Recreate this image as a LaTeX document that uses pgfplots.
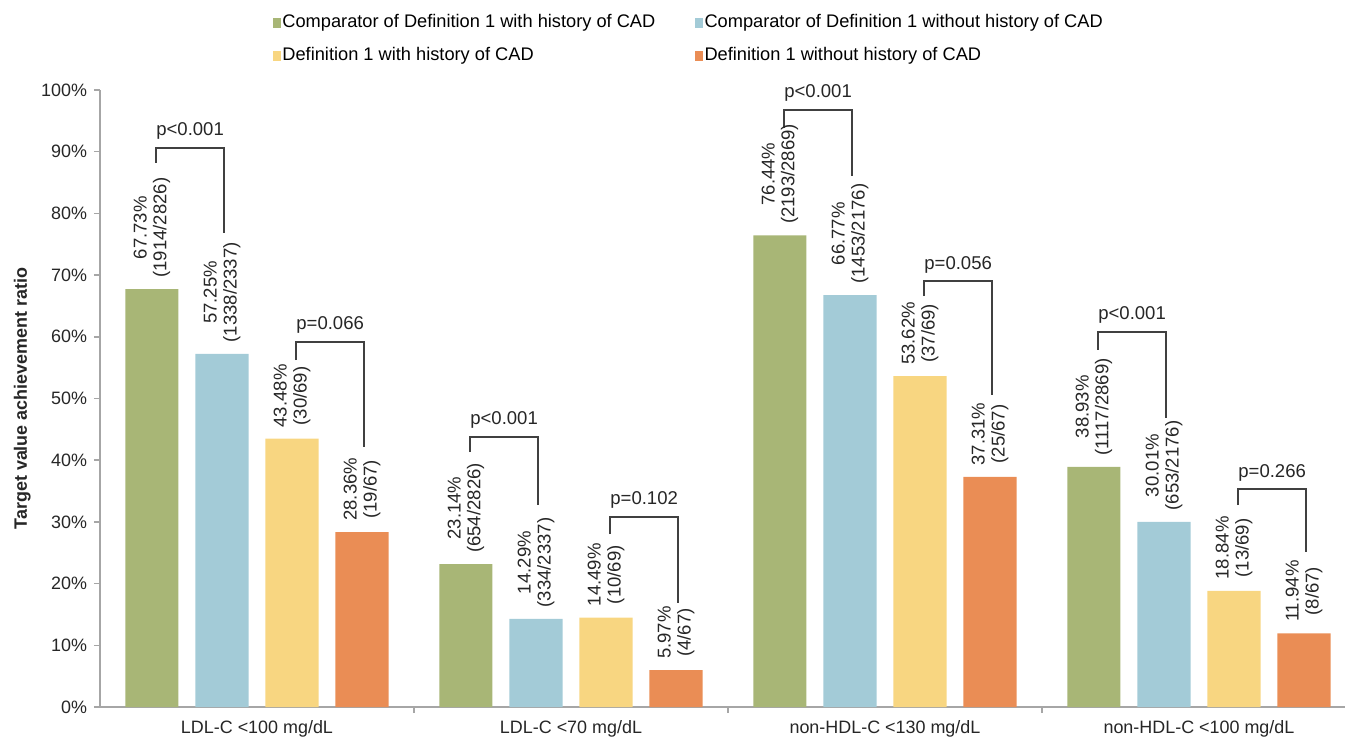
\documentclass[border=0pt]{standalone}
\usepackage{fontspec}
\setmainfont{Liberation Sans}
\usepackage{pgfplots}
\pgfplotsset{compat=1.18}

\definecolor{cgreen}{HTML}{A8B676}
\definecolor{cblue}{HTML}{A3CBD7}
\definecolor{cyellow}{HTML}{F8D681}
\definecolor{corange}{HTML}{EA8D55}
\definecolor{axisgray}{HTML}{A6A6A6}
\definecolor{brk}{HTML}{404040}
\definecolor{txt}{HTML}{262626}

\newcommand{\lab}{\fontsize{9.3}{10}\selectfont}
\newcommand{\pbracket}[6]{%
  \draw[brk, line width=1bp] (axis cs:#1,#3) -- (axis cs:#1,#4) -- (axis cs:#2,#4) -- (axis cs:#2,#5);
  \node[anchor=base, text=txt, font=\lab, inner sep=0pt, yshift=6bp] at (axis cs:{(#1+#2)/2},#4) {#6};}

\pgfplotsset{
  barlab/.style={
    ybar, bar width=0.169, bar shift=0pt, draw=none,
    point meta=explicit symbolic,
    nodes near coords,
    nodes near coords style={rotate=90, anchor=west, align=center, font=\lab,
      text=txt, inner xsep=5.5bp, inner ysep=0pt},
  }
}

\begin{document}
\begin{tikzpicture}
\begin{axis}[
  scale only axis, width=622.5bp, height=308.5bp,
  xmin=-0.5, xmax=3.465, ymin=0, ymax=100,
  clip=false,
  axis x line*=bottom, axis y line*=left,
  axis line style={axisgray, line width=0.8bp},
  ytick={0,10,...,100},
  yticklabel={\pgfmathprintnumber{\tick}\%},
  /pgf/number format/assume math mode=true,
  yticklabel style={font=\fontsize{9}{10}\selectfont, text=txt},
  ytick style={axisgray, line width=0.8bp},
  xtick={0.5,1.5,2.5}, xticklabels={},
  xtick style={axisgray, line width=0.8bp},
  extra x ticks={0,1,2,3},
  extra x tick labels={LDL-C <100 mg/dL, LDL-C <70 mg/dL, non-HDL-C <130 mg/dL, non-HDL-C <100 mg/dL},
  extra x tick style={tick style={draw=none}},
  xticklabel style={font=\fontsize{9}{10}\selectfont, text=txt},
  tick align=outside, major tick length=3bp,
  ylabel={Target value achievement ratio},
  ylabel style={at={(axis description cs:-0.0625,0.5)}, anchor=center, font=\fontsize{9}{10}\selectfont\bfseries, text=txt},
  legend columns=2,
  legend cell align=left,
  legend style={at={(axis description cs:0.1385,1.128)}, anchor=north west, draw=none,
    font=\fontsize{9.15}{10}\selectfont, text=black, inner sep=0pt,
    nodes={inner xsep=0.8bp, inner ysep=1.5bp}, row sep=5.5bp,
    /tikz/every even column/.append style={column sep=19bp}},
  legend image code/.code={\fill[#1] (0bp,-2.5bp) rectangle (4bp,2.5bp);},
]
\addplot[barlab, fill=cgreen] coordinates {
  (-0.3345,67.73) [67.73\%\\(1914/2826)]
  (0.6655,23.14) [23.14\%\\(654/2826)]
  (1.6655,76.44) [76.44\%\\(2193/2869)]
  (2.6655,38.93) [38.93\%\\(1117/2869)]
};
\addlegendentry{Comparator of Definition 1 with history of CAD}
\addplot[barlab, fill=cblue] coordinates {
  (-0.1115,57.25) [57.25\%\\(1338/2337)]
  (0.8885,14.29) [14.29\%\\(334/2337)]
  (1.8885,66.77) [66.77\%\\(1453/2176)]
  (2.8885,30.01) [30.01\%\\(653/2176)]
};
\addlegendentry{Comparator of Definition 1 without history of CAD}
\addplot[barlab, fill=cyellow] coordinates {
  (0.1115,43.48) [43.48\%\\(30/69)]
  (1.1115,14.49) [14.49\%\\(10/69)]
  (2.1115,53.62) [53.62\%\\(37/69)]
  (3.1115,18.84) [18.84\%\\(13/69)]
};
\addlegendentry{Definition 1 with history of CAD}
\addplot[barlab, fill=corange] coordinates {
  (0.3345,28.36) [28.36\%\\(19/67)]
  (1.3345,5.97) [5.97\%\\(4/67)]
  (2.3345,37.31) [37.31\%\\(25/67)]
  (3.3345,11.94) [11.94\%\\(8/67)]
};
\addlegendentry{Definition 1 without history of CAD}

\pbracket{-0.3205}{-0.1055}{88.2}{90.6}{76.8}{p<0.001}
\pbracket{0.1255}{0.3405}{56.2}{59.2}{42.1}{p=0.066}
\pbracket{0.6795}{0.8945}{41.3}{43.8}{32.7}{p<0.001}
\pbracket{1.1255}{1.3405}{28.0}{30.8}{16.9}{p=0.102}
\pbracket{1.6795}{1.8945}{93.8}{96.8}{86.1}{p<0.001}
\pbracket{2.1255}{2.3405}{66.6}{69.0}{50.6}{p=0.056}
\pbracket{2.6795}{2.8945}{57.9}{60.8}{46.8}{p<0.001}
\pbracket{3.1255}{3.3405}{32.7}{35.3}{25.1}{p=0.266}
\end{axis}
\pgfresetboundingbox
\path (-50bp,-15.5bp) rectangle (623.5bp,353.5bp);
\end{tikzpicture}
\end{document}
